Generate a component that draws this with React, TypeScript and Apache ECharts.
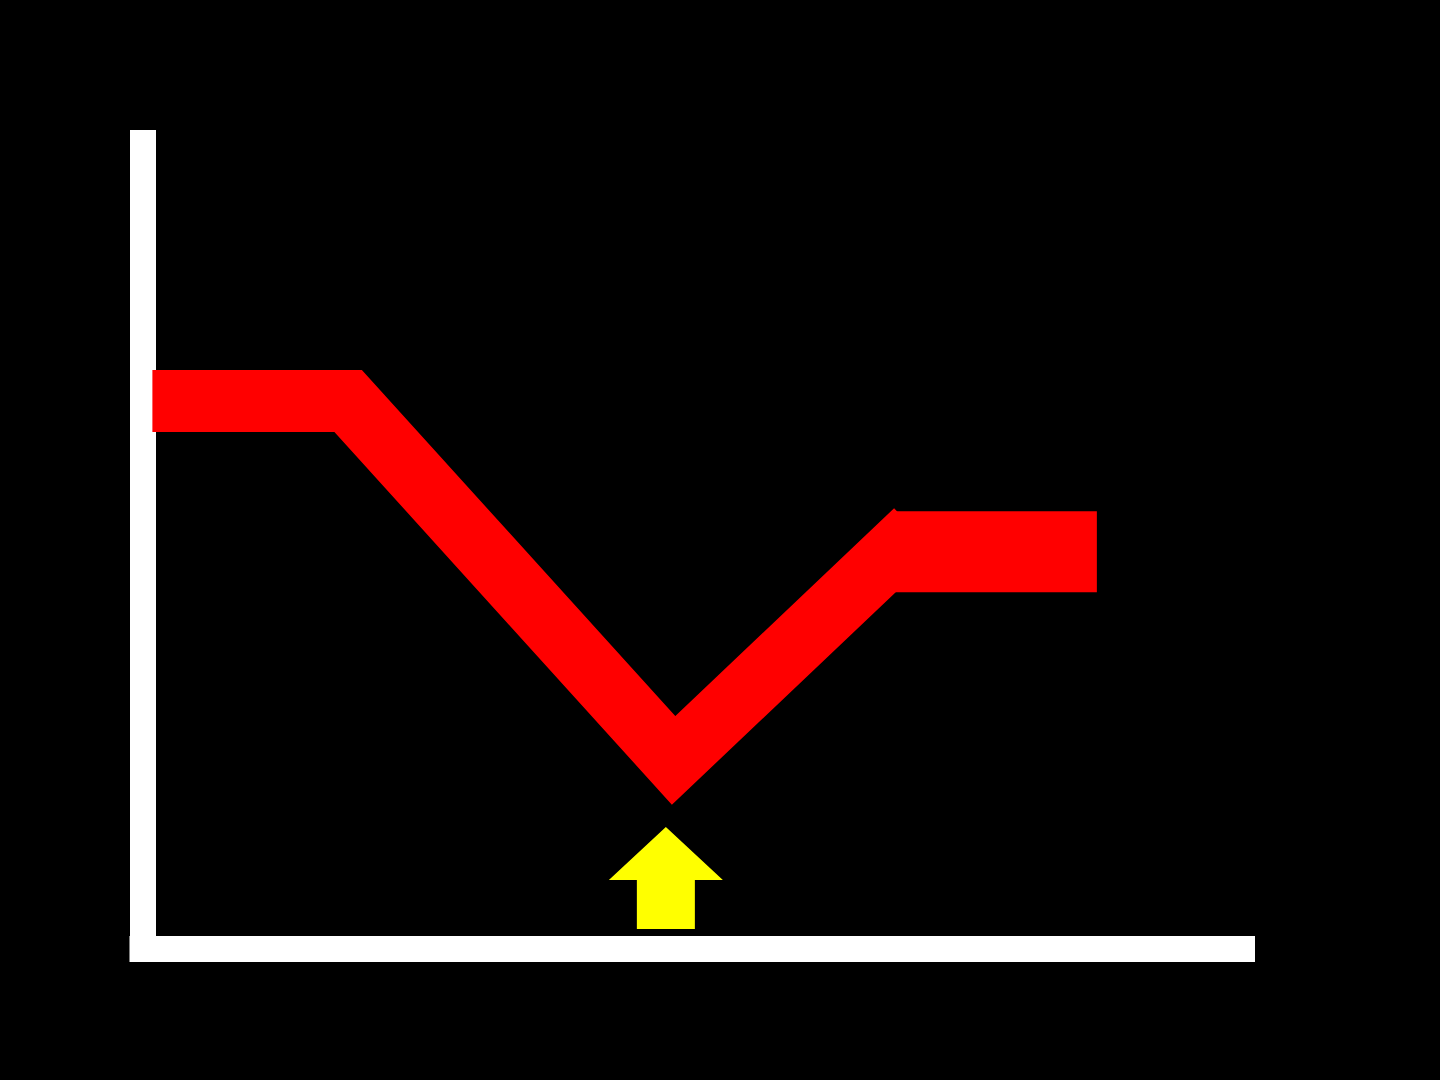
import { useEffect, useRef } from 'react';
import * as echarts from 'echarts';

// x/y positions on a 0..100 scale for both axes
const xValues = [0.9, 18.7, 48.3, 70.3];
const yValues = [68.0, 68.0, 23.4, 51.9];
const plateauX = [68.2, 86.8];
const plateauY = [49.3, 49.3];
// arrow marker under the minimum
const arrowAt = [47.6, 8.8];

const ARROW = 'path://M57,0 L114,53 L86,53 L86,102 L28,102 L28,53 L0,53 Z';

export default function App() {
  const chartRef = useRef<HTMLDivElement>(null);

  useEffect(() => {
    document.body.style.background = '#000';
    if (!chartRef.current) return;
    const chart = echarts.init(chartRef.current, undefined, { renderer: 'svg' });

    const axisLine = {
      show: true,
      onZero: false,
      lineStyle: { color: '#ffffff', width: 26, cap: 'square' },
    };

    chart.setOption({
      animation: false,
      backgroundColor: '#000000',
      grid: { left: 142.5, right: 198, top: 143, bottom: 131 },
      xAxis: {
        type: 'value',
        min: 0,
        max: 100,
        axisLine,
        axisTick: { show: false },
        axisLabel: { show: false },
        splitLine: { show: false },
      },
      yAxis: {
        type: 'value',
        min: 0,
        max: 100,
        axisLine,
        axisTick: { show: false },
        axisLabel: { show: false },
        splitLine: { show: false },
      },
      series: [
        {
          type: 'line',
          data: xValues.map((x, i) => [x, yValues[i]]),
          showSymbol: false,
          z: 3,
          lineStyle: { color: '#ff0000', width: 62, cap: 'butt', join: 'miter', miterLimit: 10 },
          markPoint: {
            symbol: ARROW,
            symbolSize: [114, 102],
            itemStyle: { color: '#ffff00' },
            label: { show: false },
            data: [{ coord: arrowAt }],
          },
        },
        {
          type: 'line',
          data: plateauX.map((x, i) => [x, plateauY[i]]),
          showSymbol: false,
          z: 3,
          lineStyle: { color: '#ff0000', width: 81, cap: 'butt' },
        },
      ],
    });

    return () => chart.dispose();
  }, []);

  return (
    <div
      ref={chartRef}
      style={{ position: 'fixed', left: 0, top: 0, width: 1440, height: 1080, background: '#000' }}
    />
  );
}
